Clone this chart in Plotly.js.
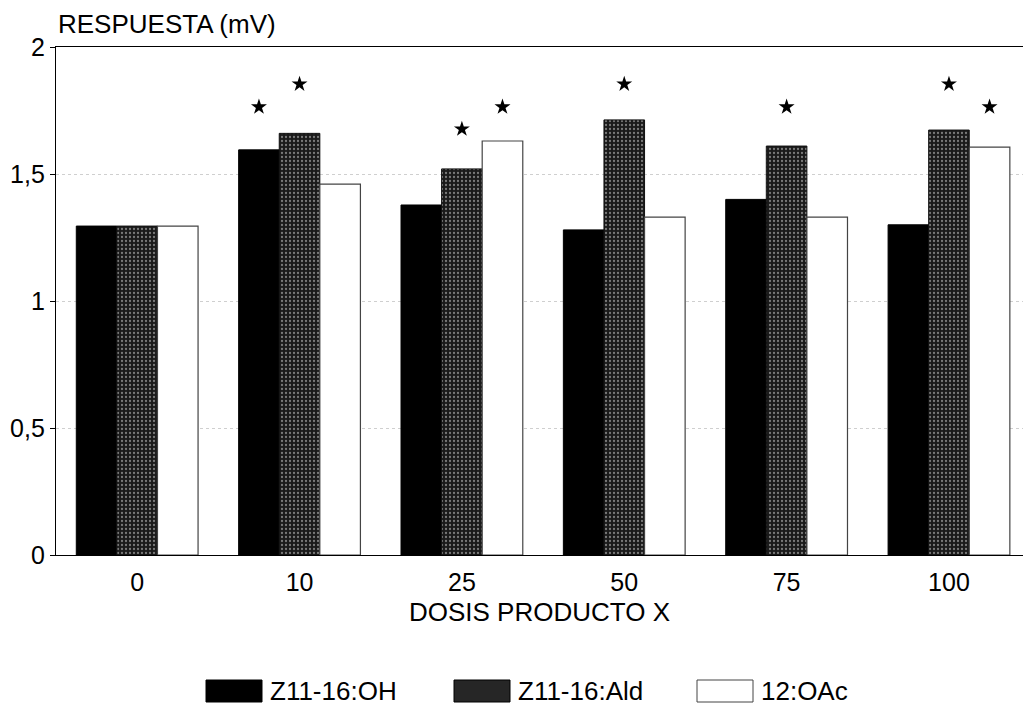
<!DOCTYPE html>
<html>
<head>
<meta charset="utf-8">
<script src="https://cdn.plot.ly/plotly-3.0.1.min.js"></script>
<style>html,body{margin:0;padding:0;background:#fff;}#chart{width:1023px;height:706px;}</style>
</head>
<body>
<div id="chart"></div>
<script>
const categories = ['0', '10', '25', '50', '75', '100'];
const seriesNames = ['Z11-16:OH', 'Z11-16:Ald', '12:OAc'];
const valuesOH  = [1.295, 1.595, 1.378, 1.28, 1.40, 1.30];
const valuesAld = [1.295, 1.66, 1.52, 1.713, 1.61, 1.673];
const valuesOAc = [1.295, 1.46, 1.63, 1.33, 1.33, 1.606];
// significance asterisks (height on the value axis), null = none
const starsOH  = [null, 1.764, null, null, null, null];
const starsAld = [null, 1.854, 1.677, 1.854, 1.764, 1.854];
const starsOAc = [null, null, 1.764, null, null, 1.764];
const yTickVals = [0, 0.5, 1, 1.5, 2];
const yTickText = ['0', '0,5', '1', '1,5', '2'];
const xTitle = 'DOSIS PRODUCTO X';
const yTitle = 'RESPUESTA (mV)';

const FONT = 'Liberation Sans, Arial, Helvetica, sans-serif';

const barStyles = [
  {color: '#000000', line: {color: '#000000', width: 1}},
  {color: '#1e1e1e', line: {color: '#111111', width: 1},
   pattern: {shape: '.', bgcolor: '#1a1a1a', fgcolor: '#7a7a7a', size: 4, solidity: 0.25}},
  {color: '#ffffff', line: {color: '#444444', width: 1.2}}
];
const vals = [valuesOH, valuesAld, valuesOAc];
const stars = [starsOH, starsAld, starsOAc];

const traces = [];
for (let i = 0; i < 3; i++) {
  traces.push({
    type: 'bar', name: seriesNames[i], x: categories, y: vals[i],
    offsetgroup: 'g' + i, marker: barStyles[i], showlegend: false, hoverinfo: 'x+y'
  });
}
for (let i = 0; i < 3; i++) {
  traces.push({
    type: 'scatter', mode: 'markers', x: categories, y: stars[i],
    offsetgroup: 'g' + i, showlegend: false, hoverinfo: 'skip',
    marker: {symbol: 'star', size: 12, color: '#000'}
  });
}

// manual legend (large swatches)
const legendX = [206, 454, 697];
const shapes = [];
const annotations = [{
  xref: 'paper', yref: 'paper', x: 0, y: 1, xshift: 0, yshift: 23,
  xanchor: 'left', yanchor: 'middle', text: yTitle, showarrow: false,
  font: {family: FONT, size: 26, color: '#000'}
}];
const legendFill = ['#000000', '#262626', '#ffffff'];
for (let i = 0; i < 3; i++) {
  shapes.push({
    type: 'rect', xref: 'paper', yref: 'paper',
    x0: (legendX[i] - 56) / 967, x1: (legendX[i] + 56 - 56) / 967,
    y0: -(680 - 555) / 508, y1: -(702 - 555) / 508,
    fillcolor: legendFill[i], line: {color: i === 2 ? '#444' : '#000', width: 1}
  });
  annotations.push({
    xref: 'paper', yref: 'paper', x: (legendX[i] + 62 - 56) / 967, y: -(691 - 555) / 508,
    xanchor: 'left', yanchor: 'middle', text: seriesNames[i], showarrow: false,
    font: {family: FONT, size: 26, color: '#000'}
  });
}

const layout = {
  width: 1023, height: 706,
  margin: {l: 56, r: 0, t: 47, b: 151, pad: 0},
  paper_bgcolor: '#fff', plot_bgcolor: '#fff',
  barmode: 'group', bargap: 0.25, bargroupgap: 0,
  scattermode: 'group', scattergap: 0.25,
  font: {family: FONT, size: 25, color: '#000'},
  xaxis: {
    type: 'category', range: [-0.5, 5.456], showline: true, mirror: true,
    linecolor: '#000', linewidth: 1.2, ticks: '', showgrid: false, zeroline: false,
    tickfont: {family: FONT, size: 25, color: '#000'}, ticklabelstandoff: 5,
    title: {text: xTitle, font: {family: FONT, size: 26, color: '#000'}, standoff: 7},
    fixedrange: true
  },
  yaxis: {
    range: [0, 2], tickvals: yTickVals, ticktext: yTickText,
    showline: true, linecolor: '#000', linewidth: 1.2,
    ticks: 'outside', ticklen: 5, tickcolor: '#000', tickwidth: 1,
    showgrid: true, gridcolor: '#cfcfcf', griddash: 'dot', gridwidth: 1,
    zeroline: false, tickfont: {family: FONT, size: 25, color: '#000'},
    fixedrange: true
  },
  shapes: shapes,
  annotations: annotations,
  showlegend: false
};

Plotly.newPlot('chart', traces, layout, {displayModeBar: false, staticPlot: true});
</script>
</body>
</html>
